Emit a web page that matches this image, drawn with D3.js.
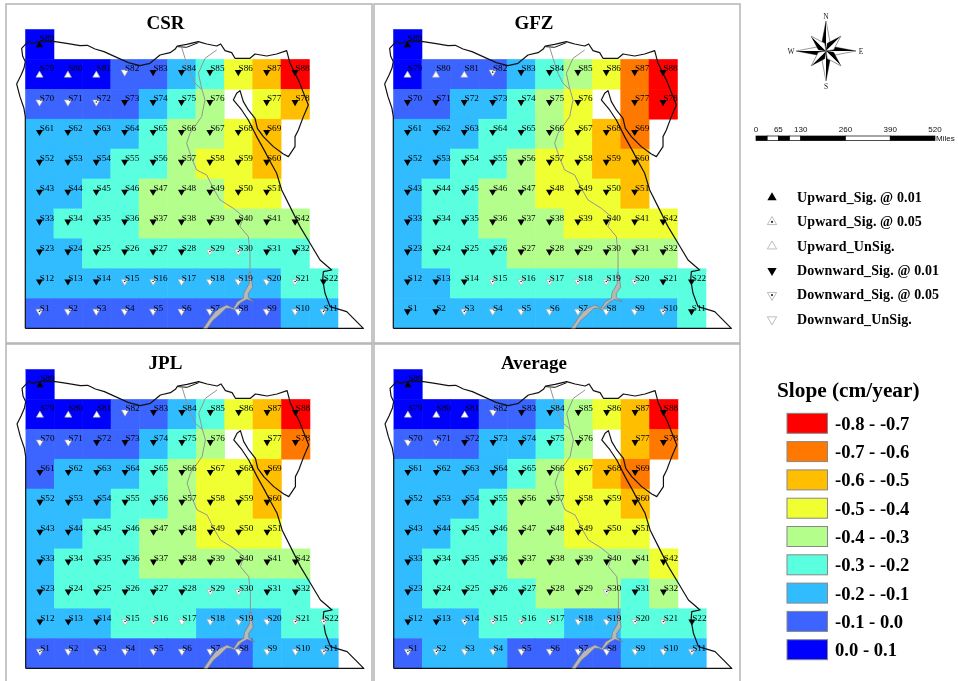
<!DOCTYPE html>
<html><head><meta charset="utf-8">
<script src="https://cdn.jsdelivr.net/npm/d3@7"></script>
<style>html,body{margin:0;padding:0;background:#fff}svg{display:block}</style></head>
<body><svg id="c" width="958" height="681"><defs><filter id="soft" x="0" y="0" width="100%" height="100%" color-interpolation-filters="sRGB"><feGaussianBlur stdDeviation="0.4"/></filter></defs></svg>
<script>
// stations per grid row, top to bottom; null = empty cell
const rowStations = [[89],[79,80,81,82,83,84,85,86,87,88],[70,71,72,73,74,75,76,null,77,78],
 [61,62,63,64,65,66,67,68,69],[52,53,54,55,56,57,58,59,60],[43,44,45,46,47,48,49,50,51],
 [33,34,35,36,37,38,39,40,41,42],[23,24,25,26,27,28,29,30,31,32],
 [12,13,14,15,16,17,18,19,20,21,22],[1,2,3,4,5,6,7,8,9,10,11]];
// slope class midpoints (cm/year), one per cell, same shape as rowStations
const csrSlope = [[.05],[.05,.05,.05,-.05,-.05,-.15,-.25,-.45,-.55,-.75],[-.05,-.05,-.05,-.05,-.15,-.25,-.35,null,-.45,-.55],
 [-.15,-.15,-.15,-.15,-.25,-.35,-.35,-.45,-.55],[-.15,-.15,-.15,-.25,-.25,-.35,-.45,-.45,-.55],[-.15,-.15,-.25,-.25,-.35,-.35,-.35,-.45,-.45],
 [-.15,-.25,-.25,-.25,-.35,-.35,-.35,-.35,-.35,-.35],[-.15,-.15,-.25,-.25,-.25,-.25,-.25,-.25,-.25,-.25],
 [-.15,-.15,-.15,-.15,-.15,-.15,-.15,-.15,-.15,-.25,-.25],[-.05,-.05,-.05,-.05,-.05,-.05,-.05,-.05,-.05,-.15,-.15]];
const gfzSlope = [[.05],[.05,-.05,-.05,-.05,-.15,-.25,-.35,-.45,-.65,-.75],[-.05,-.05,-.15,-.15,-.25,-.35,-.45,null,-.65,-.75],
 [-.15,-.15,-.15,-.25,-.25,-.35,-.45,-.55,-.65],[-.15,-.15,-.25,-.25,-.35,-.45,-.45,-.55,-.55],[-.15,-.25,-.25,-.35,-.35,-.45,-.45,-.45,-.55],
 [-.15,-.25,-.25,-.35,-.35,-.35,-.45,-.45,-.45,-.45],[-.15,-.25,-.25,-.25,-.35,-.35,-.35,-.35,-.35,-.35],
 [-.15,-.15,-.25,-.25,-.25,-.25,-.25,-.25,-.25,-.25,-.25],[-.15,-.15,-.15,-.15,-.15,-.15,-.15,-.15,-.15,-.15,-.25]];
const jplSlope = [[.05],[.05,.05,.05,-.05,-.05,-.15,-.25,-.45,-.55,-.75],[-.05,-.05,-.05,-.05,-.15,-.25,-.35,null,-.45,-.65],
 [-.05,-.15,-.15,-.15,-.25,-.35,-.45,-.45,-.55],[-.15,-.15,-.15,-.25,-.25,-.35,-.45,-.45,-.55],[-.15,-.15,-.25,-.25,-.35,-.35,-.45,-.45,-.45],
 [-.15,-.25,-.25,-.25,-.35,-.35,-.35,-.35,-.35,-.35],[-.15,-.25,-.25,-.25,-.25,-.25,-.25,-.25,-.25,-.25],
 [-.15,-.15,-.15,-.25,-.25,-.25,-.15,-.15,-.15,-.25,-.25],[-.05,-.05,-.05,-.05,-.05,-.05,-.05,-.05,-.15,-.15,-.15]];
const avgSlope = [[.05],[.05,.05,.05,-.05,-.05,-.15,-.35,-.45,-.55,-.75],[-.05,-.05,-.05,-.15,-.15,-.25,-.35,null,-.55,-.65],
 [-.15,-.15,-.15,-.15,-.25,-.35,-.45,-.55,-.65],[-.15,-.15,-.15,-.25,-.35,-.35,-.45,-.45,-.55],[-.15,-.15,-.25,-.25,-.35,-.35,-.45,-.45,-.45],
 [-.15,-.25,-.25,-.25,-.35,-.35,-.35,-.35,-.35,-.45],[-.15,-.25,-.25,-.25,-.25,-.35,-.35,-.35,-.25,-.35],
 [-.15,-.15,-.15,-.25,-.25,-.25,-.15,-.15,-.25,-.25,-.25],[-.05,-.15,-.15,-.15,-.05,-.05,-.05,-.05,-.15,-.15,-.15]];
// trend markers that differ from the default "Downward_Sig. @ 0.01"
const csrSig05 = [1,11,15,16,21,29,30,72], csrUnsig = [2,3,4,5,6,7,8,9,10,17,18,19,20,70,71,82];
const gfzSig05 = [3,10,15,16,17,18,19,20,82], gfzUnsig = [4,5,6,7,8,9];
const jplSig05 = [1,11,15,16,21,22,29,30], jplUnsig = [2,3,4,5,6,7,8,9,10,17,18,19,20,70,71,82];
const avgSig05 = [1,2,11,14,15,16,17,20,21,30,71], avgUnsig = [3,4,5,6,7,8,9,10,18,19,70,82];
const upUnsig = [79,80,81], upSig01 = [89];

const panelNames = ["CSR","GFZ","JPL","Average"];
const panelSlopes = [csrSlope,gfzSlope,jplSlope,avgSlope];
const panelSig05 = [csrSig05,gfzSig05,jplSig05,avgSig05];
const panelUnsig = [csrUnsig,gfzUnsig,jplUnsig,avgUnsig];

const classBreaks = [-.7,-.6,-.5,-.4,-.3,-.2,-.1,0];
const classColors = ["#ff0000","#ff7800","#ffbe00","#f0ff32","#b4ff8c","#5affe0","#30bcff","#3c64ff","#0000ff"];
const classLabels = ["-0.8 - -0.7","-0.7 - -0.6","-0.6 - -0.5","-0.5 - -0.4","-0.4 - -0.3","-0.3 - -0.2","-0.2 - -0.1","-0.1 - 0.0","0.0 - 0.1"];
const trendNames = ["Upward_Sig. @ 0.01","Upward_Sig. @ 0.05","Upward_UnSig.","Downward_Sig. @ 0.01","Downward_Sig. @ 0.05","Downward_UnSig."];
const scaleMiles = [0,65,130,260,390,520];
const scaleSegments = [[0,32.5,1],[32.5,65,0],[65,97.5,1],[97.5,130,0],[130,260,1],[260,390,0],[390,520,1]];

// boundaries in map units
const egyptBorder = [[76,985],[76,350],[72,325],[60,290],[50,252],[62,228],[72,205],[76,185],[68,168],[65,145],[85,124],[95,130],[120,125],[160,124],[200,130],[240,137],[262,136],[285,147],[312,155],[345,170],[385,188],[420,197],[450,190],[480,165],[510,158],[525,148],[532,138],[560,133],[595,125],[620,132],[650,138],[662,132],[675,152],[695,158],[705,175],[725,175],[750,175],[765,162],[800,168],[830,162],[860,152],[870,190],[895,240],[915,290],[925,315],[910,350],[895,390],[885,410],[885,440],[865,470],[850,462],[820,440],[790,410],[772,385],[765,355],[745,330],[730,305],[720,272],[710,280],[700,300],[725,330],[745,360],[770,410],[795,455],[805,475],[830,520],[845,570],[870,620],[900,680],[930,730],[960,780],[995,810],[970,815],[968,840],[975,880],[990,920],[1040,935],[1090,985],[76,985]];
const deltaLagoon = [[532,140],[560,142],[595,128]];
const nileWest = [[545,142],[555,175],[570,220],[585,250],[605,268]];
const nileEast = [[650,150],[615,175],[595,220],[605,265],[615,300],[605,350],[570,400],[560,430],[575,475],[590,510],[620,525],[640,565],[660,600],[700,625],[730,650],[720,680],[745,710],[750,760],[750,815]];
const lakeNasser = [[750,815],[756,845],[758,862],[745,880],[745,893],[762,905],[740,898],[722,908],[702,930],[690,925],[678,925],[658,945],[640,960],[622,985],[610,985],[630,955],[650,930],[680,915],[700,925],[712,905],[730,895],[732,878],[748,850],[746,825]];

// compass directions: angle in degrees, length
const compassPoints = [[0,30],[90,30],[180,30],[270,30],[45,21],[135,21],[225,21],[315,21]];
const compassLetters = [["N",0],["E",90],["S",180],["W",270]];

const root = d3.select("#c").append("g").attr("filter","url(#soft)");
root.append("rect").attr("width",958).attr("height",681).attr("fill","#fff");
const svg = root;
const color = d3.scaleThreshold().domain(classBreaks).range(classColors);
const serif = "'Liberation Serif','Times New Roman',serif", sans = "'Liberation Sans',Arial,sans-serif";

const frames = [[6,4,366,339],[374,4,366,339],[6,344,366,342],[374,344,366,342]];
const grids = [[25.3,29.3],[393.3,29.3],[25.7,369.3],[393.7,369.3]];
const titleX = [165.5,534,165.5,534], titleY = [29,29,369,369];

const triangle = d3.symbol().type(d3.symbolTriangle).size(22)();
function marker(sel, kind){ // kind: U1,U5,UN,D1,D5,DN
  const up = kind[0]==="U";
  const p = sel.append("g");
  p.append("path").attr("d",triangle).attr("transform",up?null:"rotate(180)")
    .attr("fill",kind[1]==="1"?"#000":"#fff")
    .attr("stroke",kind[1]==="1"?"none":"#aaa").attr("stroke-width",.6);
  if(kind[1]==="5") p.append("circle").attr("r",.8).attr("fill","#222");
  return p;
}

panelNames.forEach((name,i)=>{
  const [fx,fy,fw,fh]=frames[i], [gx,gy]=grids[i];
  const g = svg.append("g");
  g.append("rect").attr("x",fx).attr("y",fy).attr("width",fw).attr("height",fh).attr("fill","#fff").attr("stroke","#b4b4b4").attr("stroke-width",1.5);
  const col = d3.scaleBand().domain(d3.range(11)).range([gx,gx+312.4]);
  const row = d3.scaleBand().domain(d3.range(10)).range([gy,gy+299]);
  const mx = d3.scaleLinear().domain([76,1013]).range([gx,gx+312.4]);
  const my = d3.scaleLinear().domain([88,985]).range([gy,gy+299]);
  const line = d3.line().x(d=>mx(d[0])).y(d=>my(d[1]));
  const cells=[];
  rowStations.forEach((st,r)=>st.forEach((s,c)=>{ if(s!==null) cells.push({s,r,c,v:panelSlopes[i][r][c]}); }));
  g.selectAll("rect.cell").data(cells).join("rect").attr("class","cell")
    .attr("x",d=>col(d.c)).attr("y",d=>row(d.r)).attr("width",col.bandwidth()+.4).attr("height",row.bandwidth()+.4)
    .attr("fill",d=>color(d.v)).attr("stroke",d=>color(d.v)).attr("stroke-width",.2);
  g.append("path").attr("d",line(egyptBorder)).attr("fill","none").attr("stroke","#111").attr("stroke-width",1.2).attr("stroke-linejoin","round");
  g.append("path").attr("d",line(deltaLagoon)).attr("fill","none").attr("stroke","#111").attr("stroke-width",1);
  [nileWest,nileEast].forEach(n=>g.append("path").attr("d",line(n)).attr("fill","none").attr("stroke","#949494").attr("stroke-width",1));
  g.append("path").attr("d",line(lakeNasser)+"Z").attr("fill","#b8b8b8").attr("stroke","#707070").attr("stroke-width",.6);
  cells.forEach(d=>{
    const cx=col(d.c)+col.bandwidth()/2, cy=row(d.r)+row.bandwidth()/2;
    let kind="D1";
    if(upSig01.includes(d.s)) kind="U1";
    else if(upUnsig.includes(d.s)) kind="UN";
    else if(panelSig05[i].includes(d.s)) kind="D5";
    else if(panelUnsig[i].includes(d.s)) kind="DN";
    const m=marker(g,kind); m.attr("transform",`translate(${cx},${cy+(kind[0]==="U"?1:-2)})`);
    g.append("text").attr("x",cx+.3).attr("y",cy-2.8).attr("font-family",serif).attr("font-size",9.2).attr("fill","#000").text("S"+d.s);
  });
  g.append("text").attr("x",titleX[i]).attr("y",titleY[i]).attr("text-anchor","middle").attr("font-family",serif).attr("font-weight","bold").attr("font-size",19).attr("fill","#000").text(name);
});

// compass
const comp = svg.append("g").attr("transform","translate(826,51)");
compassPoints.forEach(([a,len])=>{
  const w=len>25?4:4.5;
  const k=comp.append("g").attr("transform",`rotate(${a})`);
  k.append("path").attr("d",d3.line()([[0,0],[-w,-len*.3],[0,-len]])).attr("fill","#000").attr("stroke","#000").attr("stroke-width",.4);
  k.append("path").attr("d",d3.line()([[0,0],[w,-len*.3],[0,-len]])).attr("fill","#fff").attr("stroke","#555").attr("stroke-width",.6);
});
compassLetters.forEach(([t,a])=>{
  const r=a*Math.PI/180;
  comp.append("text").attr("x",35*Math.sin(r)).attr("y",-35*Math.cos(r)+2.5).attr("text-anchor","middle").attr("font-family",serif).attr("font-size",7.5).attr("fill","#222").text(t);
});

// scale bar
const sb = d3.scaleLinear().domain([0,520]).range([756,935]);
svg.append("g").selectAll("rect").data(scaleSegments).join("rect")
  .attr("x",d=>sb(d[0])).attr("width",d=>sb(d[1])-sb(d[0])).attr("y",136).attr("height",4.6)
  .attr("fill",d=>d[2]?"#000":"#fff").attr("stroke","#000").attr("stroke-width",.7);
svg.append("g").selectAll("text").data(scaleMiles).join("text")
  .attr("x",d=>sb(d)).attr("y",131.5).attr("text-anchor","middle").attr("font-family",sans).attr("font-size",8).attr("fill","#111").text(d=>d);
svg.append("text").attr("x",936).attr("y",141).attr("font-family",sans).attr("font-size",8).attr("fill","#111").text("Miles");

// trend legend
const trendY = d3.scalePoint().domain(trendNames).range([197.5,319.5]);
const trendKinds = ["U1","U5","UN","D1","D5","DN"];
trendNames.forEach((t,i)=>{
  const m=marker(svg,trendKinds[i]); m.attr("transform",`translate(772,${trendY(t)}) scale(1.3)`);
  svg.append("text").attr("x",797).attr("y",trendY(t)+4.3).attr("font-family",serif).attr("font-weight","bold").attr("font-size",14).attr("letter-spacing",.12).attr("fill","#000").text(t);
});

// slope legend
svg.append("text").attr("x",777).attr("y",397).attr("font-family",serif).attr("font-weight","bold").attr("font-size",21.3).attr("fill","#000").text("Slope (cm/year)");
const ly = d3.scaleBand().domain(classLabels).range([413.3,668]);
classLabels.forEach((t,i)=>{
  svg.append("rect").attr("x",787).attr("y",ly(t)).attr("width",40.5).attr("height",20).attr("fill",classColors[i]).attr("stroke","#888").attr("stroke-width",1);
  svg.append("text").attr("x",835).attr("y",ly(t)+16.5).attr("font-family",serif).attr("font-weight","bold").attr("font-size",18.6).attr("fill","#000").text(t);
});
</script></body></html>
